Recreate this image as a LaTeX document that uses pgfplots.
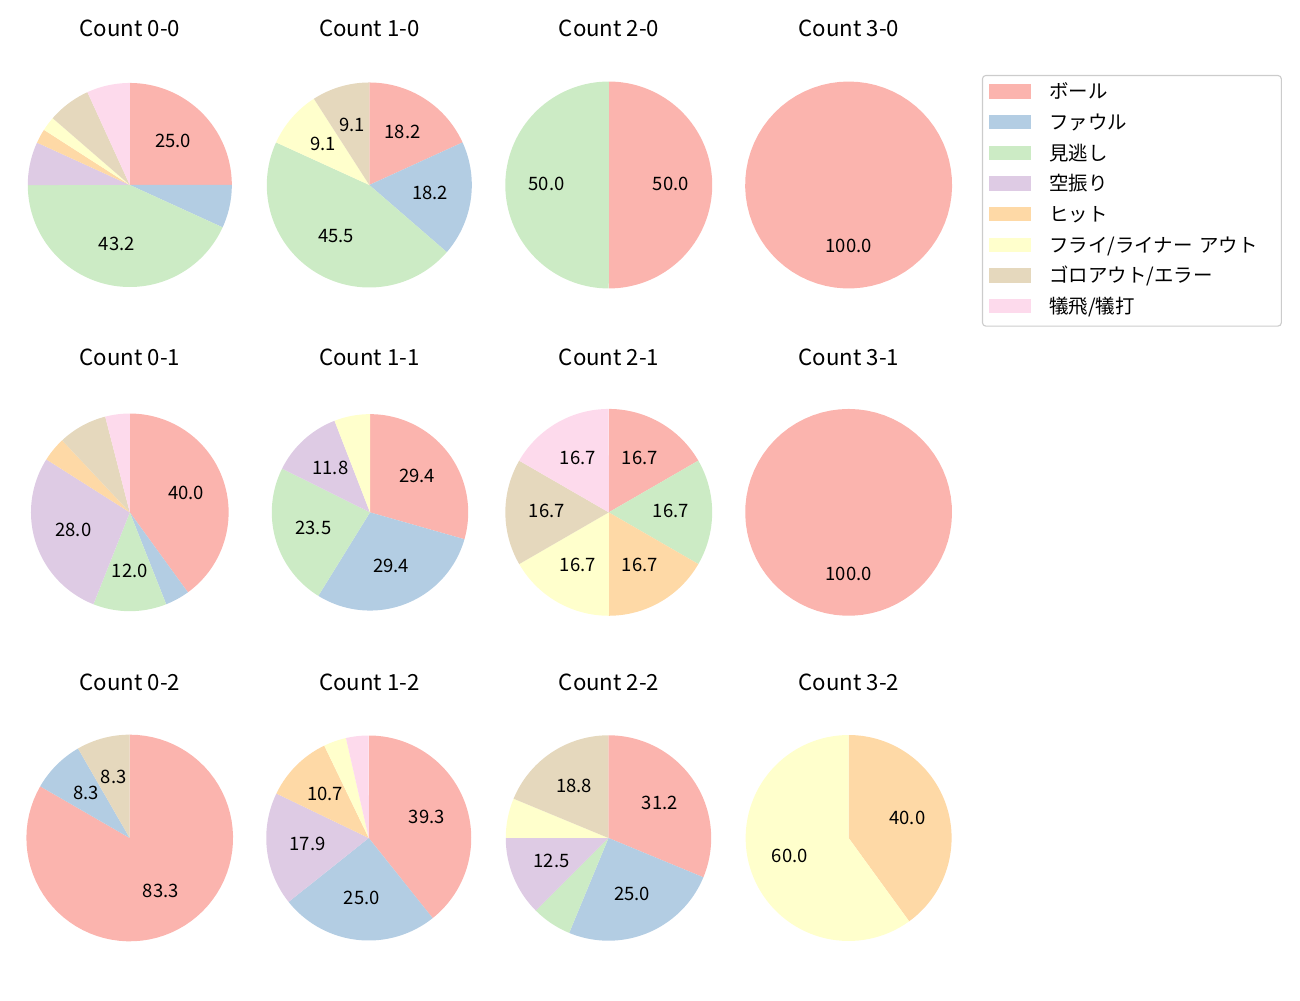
\documentclass[border=0pt]{standalone}
\usepackage{fontspec}
\setmainfont{Noto Sans CJK JP}
\usepackage{pgfplots}
\pgfplotsset{compat=1.18}
\definecolor{c1}{HTML}{FBB4AE}
\definecolor{c2}{HTML}{B3CDE3}
\definecolor{c3}{HTML}{CCEBC5}
\definecolor{c4}{HTML}{DECBE4}
\definecolor{c5}{HTML}{FED9A6}
\definecolor{c6}{HTML}{FFFFCC}
\definecolor{c7}{HTML}{E5D8BD}
\definecolor{c8}{HTML}{FDDAEC}
% slice: colour, start count, end count, total, label
\newcommand{\slice}[5]{%
  \addplot[forget plot, draw=none, fill=#1, domain=90-360*#3/#4:90-360*#2/#4, samples=72] ({cos(x)},{sin(x)}) -- (axis cs:0,0) -- cycle;
  \node[font=\fontsize{13.3}{16}\selectfont, yshift=0.7pt] at (axis cs:{0.6*cos(90-180*(#2+#3)/#4)},{0.6*sin(90-180*(#2+#3)/#4)}) {#5};
}
\pgfplotsset{pie/.style={scale only axis, hide axis, clip=false, xmin=-1, xmax=1, ymin=-1, ymax=1, anchor=center}}
\newcommand{\ttl}[3]{\node[anchor=base, font=\fontsize{16}{19}\selectfont, yshift=-0.7pt] at (#1,#2) {#3};}
\begin{document}
\begin{tikzpicture}
\path[use as bounding box] (0,0) rectangle (936pt,720pt);
% titles
\ttl{93.6pt}{694.1pt}{Count 0-0}
\ttl{266.0pt}{694.1pt}{Count 1-0}
\ttl{438.5pt}{694.1pt}{Count 2-0}
\ttl{611.2pt}{694.1pt}{Count 3-0}
\ttl{93.6pt}{457.2pt}{Count 0-1}
\ttl{266.0pt}{457.2pt}{Count 1-1}
\ttl{438.5pt}{457.2pt}{Count 2-1}
\ttl{611.2pt}{457.2pt}{Count 3-1}
\ttl{93.6pt}{223.6pt}{Count 0-2}
\ttl{266.0pt}{223.6pt}{Count 1-2}
\ttl{438.5pt}{223.6pt}{Count 2-2}
\ttl{611.2pt}{223.6pt}{Count 3-2}
% row 1
\begin{axis}[pie, width=146.9pt, height=146.9pt, at={(93.46pt,586.8pt)}]
\slice{c1}{0}{11}{44}{25.0}
\slice{c2}{11}{14}{44}{}
\slice{c3}{14}{33}{44}{43.2}
\slice{c4}{33}{36}{44}{}
\slice{c5}{36}{37}{44}{}
\slice{c6}{37}{38}{44}{}
\slice{c7}{38}{41}{44}{}
\slice{c8}{41}{44}{44}{}
\end{axis}
\begin{axis}[pie, width=147.6pt, height=147.6pt, at={(265.9pt,586.8pt)}]
\slice{c1}{0}{2}{11}{18.2}
\slice{c2}{2}{4}{11}{18.2}
\slice{c3}{4}{9}{11}{45.5}
\slice{c6}{9}{10}{11}{9.1}
\slice{c7}{10}{11}{11}{9.1}
\end{axis}
\begin{axis}[pie, width=149pt, height=149pt, at={(438.3pt,586.8pt)}]
\slice{c1}{0}{1}{2}{50.0}
\slice{c3}{1}{2}{2}{50.0}
\end{axis}
\begin{axis}[pie, width=149pt, height=149pt, at={(611.0pt,586.8pt)},
  legend image code/.code={\fill[#1, sharp corners] (0pt,0.15pt) rectangle (30.2pt,10.45pt);},
  legend style={at={(1.144,1.032)}, anchor=north west, draw=black!20, line width=0.8pt,
    rounded corners=2.5pt, inner xsep=5pt, inner ysep=3pt, row sep=2.3pt, column sep=13pt,
    font=\fontsize{14}{17}\selectfont,
    nodes={inner sep=0pt, anchor=base west, text height=13.8pt, text depth=6pt, text width=162pt}}]
\slice{c1}{0}{1}{1}{100.0}
\addlegendimage{fill=c1, draw=none}
\addlegendimage{fill=c2, draw=none}
\addlegendimage{fill=c3, draw=none}
\addlegendimage{fill=c4, draw=none}
\addlegendimage{fill=c5, draw=none}
\addlegendimage{fill=c6, draw=none}
\addlegendimage{fill=c7, draw=none}
\addlegendimage{fill=c8, draw=none}
\legend{ボール, ファウル, 見逃し, 空振り, ヒット, フライ/ライナー アウト, ゴロアウト/エラー, 犠飛/犠打}
\end{axis}
% row 2
\begin{axis}[pie, width=142.3pt, height=142.3pt, at={(93.46pt,351.1pt)}]
\slice{c1}{0}{10}{25}{40.0}
\slice{c2}{10}{11}{25}{}
\slice{c3}{11}{14}{25}{12.0}
\slice{c4}{14}{21}{25}{28.0}
\slice{c5}{21}{22}{25}{}
\slice{c7}{22}{24}{25}{}
\slice{c8}{24}{25}{25}{}
\end{axis}
\begin{axis}[pie, width=141.4pt, height=141.4pt, at={(266.4pt,351.1pt)}]
\slice{c1}{0}{5}{17}{29.4}
\slice{c2}{5}{10}{17}{29.4}
\slice{c3}{10}{14}{17}{23.5}
\slice{c4}{14}{16}{17}{11.8}
\slice{c6}{16}{17}{17}{}
\end{axis}
\begin{axis}[pie, width=148.9pt, height=148.9pt, at={(438.3pt,351.1pt)}]
\slice{c1}{0}{1}{6}{16.7}
\slice{c3}{1}{2}{6}{16.7}
\slice{c5}{2}{3}{6}{16.7}
\slice{c6}{3}{4}{6}{16.7}
\slice{c7}{4}{5}{6}{16.7}
\slice{c8}{5}{6}{6}{16.7}
\end{axis}
\begin{axis}[pie, width=148.9pt, height=148.9pt, at={(611.0pt,351.1pt)}]
\slice{c1}{0}{1}{1}{100.0}
\end{axis}
% row 3
\begin{axis}[pie, width=148.8pt, height=148.8pt, at={(93.4pt,116.64pt)}]
\slice{c1}{0}{10}{12}{83.3}
\slice{c2}{10}{11}{12}{8.3}
\slice{c7}{11}{12}{12}{8.3}
\end{axis}
\begin{axis}[pie, width=147.6pt, height=147.6pt, at={(265.5pt,116.64pt)}]
\slice{c1}{0}{11}{28}{39.3}
\slice{c2}{11}{18}{28}{25.0}
\slice{c4}{18}{23}{28}{17.9}
\slice{c5}{23}{26}{28}{10.7}
\slice{c6}{26}{27}{28}{}
\slice{c8}{27}{28}{28}{}
\end{axis}
\begin{axis}[pie, width=147.9pt, height=147.9pt, at={(438.1pt,116.64pt)}]
\slice{c1}{0}{5}{16}{31.2}
\slice{c2}{5}{9}{16}{25.0}
\slice{c3}{9}{10}{16}{}
\slice{c4}{10}{12}{16}{12.5}
\slice{c6}{12}{13}{16}{}
\slice{c7}{13}{16}{16}{18.8}
\end{axis}
\begin{axis}[pie, width=148.3pt, height=148.3pt, at={(611.0pt,116.64pt)}]
\slice{c5}{0}{2}{5}{40.0}
\slice{c6}{2}{5}{5}{60.0}
\end{axis}
\end{tikzpicture}
\end{document}
